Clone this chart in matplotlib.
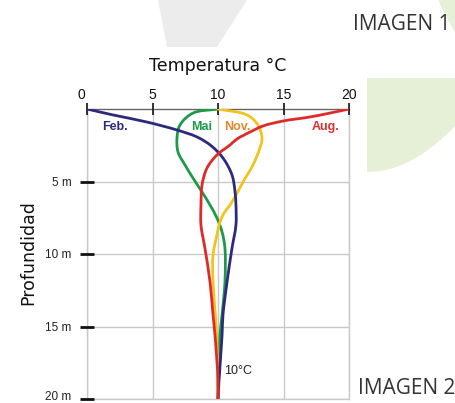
import numpy as np
import matplotlib
matplotlib.use("Agg")
import matplotlib.pyplot as plt
from matplotlib.path import Path
from matplotlib.patches import PathPatch, Polygon
from matplotlib.transforms import ScaledTranslation

# ---- data (temperature °C, depth m) ----
feb_temp = [0.0, 1.98, 4.58, 6.87, 8.40, 9.50, 10.38, 11.07, 11.3, 11.37, 11.37, 11.07, 10.69, 10.38, 10.31, 10.08, 10.0]
feb_depth = [0.0, 0.41, 0.90, 1.45, 1.93, 2.55, 3.38, 4.55, 5.72, 6.62, 8.0, 9.59, 11.93, 14.2, 15.6, 18.7, 20.0]

mai_temp = [10.0, 8.09, 7.10, 6.87, 6.95, 7.48, 8.09, 8.78, 9.39, 9.92, 10.31, 10.53, 10.53, 10.31, 10.15, 10.0, 10.0]
mai_depth = [0.0, 0.28, 1.10, 2.0, 2.97, 3.86, 4.76, 5.72, 6.62, 7.52, 8.48, 9.59, 11.93, 14.2, 15.6, 18.7, 20.0]

nov_temp = [10.0, 12.21, 13.05, 13.36, 13.2, 12.67, 11.91, 11.07, 10.38, 10.08, 9.92, 9.62, 9.62, 9.8, 9.9, 10.0, 10.0]
nov_depth = [0.0, 0.41, 1.10, 2.0, 2.69, 3.86, 5.03, 6.41, 7.31, 8.0, 8.69, 10.07, 11.93, 14.2, 15.6, 18.7, 20.0]

aug_temp = [20.0, 18.55, 17.02, 14.96, 13.44, 12.44, 11.45, 10.92, 9.92, 9.16, 8.78, 8.70, 8.70, 9.0, 9.39, 9.62, 9.77, 10.0, 10.0]
aug_depth = [0.0, 0.28, 0.55, 0.83, 1.17, 1.59, 2.07, 2.48, 3.17, 4.07, 5.24, 6.62, 8.0, 9.59, 11.93, 14.2, 15.6, 18.7, 20.0]

x_ticks = [0, 5, 10, 15, 20]
y_ticks = [5, 10, 15, 20]
y_tick_labels = ["5 m", "10 m", "15 m", "20 m"]

W, H = 456, 403
fig = plt.figure(figsize=(W / 100, H / 100), dpi=100)
fig.patch.set_facecolor("white")

def px(x, y):
    return (x / W, 1 - y / H)

# background decorations
grey = Polygon([px(158, 0), px(247, 0), px(217, 47), px(167, 47)], closed=True,
               transform=fig.transFigure, facecolor="#ececec", edgecolor="none", zorder=0)
fig.patches.append(grey)
lower = []
for t in np.linspace(0, 1, 25):
    xx = 456 - (456 - 367) * t
    yy = 125 + (172 - 125) * (1 - (1 - t) ** 2)
    lower.append((xx, yy))
green_pts = [(367, 78), (456, 78), (456, 125)] + lower
green = Polygon([px(a, b) for a, b in green_pts], closed=True, transform=fig.transFigure,
                facecolor="#e6f0d6", edgecolor="none", zorder=0)
fig.patches.append(green)
corner = Polygon([px(438, 0), px(456, 0), px(456, 34), px(447, 18)], closed=True,
                 transform=fig.transFigure, facecolor="#e6f0d6", edgecolor="none", zorder=0)
fig.patches.append(corner)

fig.text(px(353, 25)[0], px(353, 25)[1], "IMAGEN 1", fontsize=15, color="#333333",
         family="Open Sans", va="center", ha="left")
fig.text(px(358, 389)[0], px(358, 389)[1], "IMAGEN 2", fontsize=15, color="#333333",
         family="Open Sans", va="center", ha="left")

ax = fig.add_axes([87 / W, 1 - 399 / H, (349 - 87) / W, (399 - 109) / H])
ax.set_facecolor("none")
ax.set_xlim(0, 20)
ax.set_ylim(20, 0)

YS = 14.5 / 13.1  # aspect of data units in pixels

def smooth(xs, ys, alpha=0.5):
    P = np.column_stack([xs, np.array(ys) * YS]).astype(float)
    n = len(P)
    ext = np.vstack([2 * P[0] - P[1], P, 2 * P[-1] - P[-2]])
    verts = [tuple(P[0])]
    codes = [Path.MOVETO]
    for i in range(1, n):
        p0, p1, p2, p3 = ext[i - 1], ext[i], ext[i + 1], ext[i + 2]
        d01 = max(np.linalg.norm(p1 - p0) ** alpha, 1e-6)
        d12 = max(np.linalg.norm(p2 - p1) ** alpha, 1e-6)
        d23 = max(np.linalg.norm(p3 - p2) ** alpha, 1e-6)
        m1 = (p1 - p0) / d01 - (p2 - p0) / (d01 + d12) + (p2 - p1) / d12
        m2 = (p2 - p1) / d12 - (p3 - p1) / (d12 + d23) + (p3 - p2) / d23
        m1 *= d12
        m2 *= d12
        c1 = p1 + m1 / 3.0
        c2 = p2 - m2 / 3.0
        verts += [tuple(c1), tuple(c2), tuple(p2)]
        codes += [Path.CURVE4] * 3
    V = np.array(verts)
    V[:, 1] /= YS
    return Path(V, codes)

series = [
    (mai_temp, mai_depth, "#1d9a48"),
    (nov_temp, nov_depth, "#f2c31c"),
    (feb_temp, feb_depth, "#2b2a7c"),
    (aug_temp, aug_depth, "#e02a2a"),
]
for i, (t, d, c) in enumerate(series):
    ax.add_patch(PathPatch(smooth(t, d), facecolor="none", edgecolor=c, lw=2.0,
                           capstyle="round", zorder=3 + i))

ax.text(2.14, 1.24, "Feb.", color="#2b2a7c", fontsize=9, fontweight="bold",
        family="Liberation Sans", ha="center", va="center")
ax.text(8.78, 1.24, "Mai", color="#1d9a48", fontsize=9, fontweight="bold",
        family="Liberation Sans", ha="center", va="center")
ax.text(11.5, 1.24, "Nov.", color="#e0892a", fontsize=9, fontweight="bold",
        family="Liberation Sans", ha="center", va="center")
ax.text(18.2, 1.24, "Aug.", color="#d8302e", fontsize=9, fontweight="bold",
        family="Liberation Sans", ha="center", va="center")
ax.text(10.45, 18.1, "10°C", color="#222222", fontsize=9,
        family="Liberation Sans", ha="left", va="center")

ax.xaxis.tick_top()
ax.set_xticks(x_ticks)
ax.set_xticklabels([str(v) for v in x_ticks], family="Liberation Sans", fontsize=10)
ax.tick_params(axis="x", direction="inout", length=8, width=1.2, color="#111111",
               pad=1, labelcolor="#111111")
lbl0 = ax.get_xticklabels()[0]
lbl0.set_transform(lbl0.get_transform() + ScaledTranslation(-6 / 100, 0, fig.dpi_scale_trans))
ax.set_yticks(y_ticks)
ax.set_yticklabels(y_tick_labels, family="Liberation Sans", fontsize=8.5)
ax.tick_params(axis="y", direction="inout", length=10, width=2, color="#111111",
               pad=6, labelcolor="#222222")
lbl_last = ax.get_yticklabels()[-1]
lbl_last.set_transform(lbl_last.get_transform() + ScaledTranslation(0, 3 / 100, fig.dpi_scale_trans))

ax.grid(True, color="#c9c9c9", lw=1)
ax.set_axisbelow(True)
for s in ["left", "right", "bottom"]:
    ax.spines[s].set_color("#c9c9c9")
    ax.spines[s].set_linewidth(1)
    ax.spines[s].set_zorder(0.2)
ax.spines["top"].set_color("#666666")
ax.spines["top"].set_linewidth(1)
ax.spines["top"].set_zorder(0.2)

fig.text(218 / W, 1 - 66 / H, "Temperatura °C", fontsize=12.5, family="DejaVu Sans",
         ha="center", va="center", color="#111111")
fig.text(28 / W, 1 - 253 / H, "Profundidad", fontsize=12.5, family="DejaVu Sans",
         rotation=90, ha="center", va="center", color="#111111")

fig.savefig("out.png", dpi=100)
